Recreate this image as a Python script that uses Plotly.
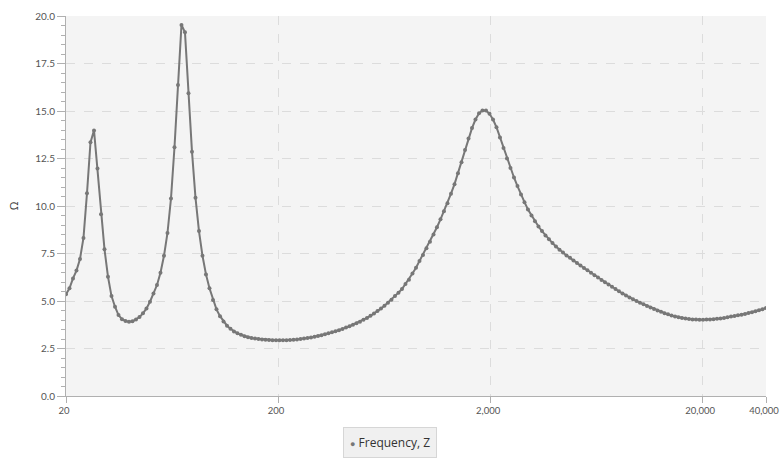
import plotly.graph_objects as go

# Impedance curve: frequency (Hz) and |Z| (ohm)
freq = [
    20.0, 20.77, 21.58, 22.41, 23.28, 24.18, 25.12, 26.09, 27.11, 28.15,
    29.25, 30.38, 31.55, 32.78, 34.05, 35.36, 36.73, 38.16, 39.63, 41.17,
    42.76, 44.42, 46.14, 47.93, 49.78, 51.71, 53.72, 55.80, 57.96, 60.20,
    62.53, 64.96, 67.47, 70.08, 72.80, 75.62, 78.55, 81.59, 84.75, 88.03,
    91.44, 94.98, 98.66, 102.5, 106.5, 110.6, 114.9, 119.3, 123.9, 128.7,
    133.7, 138.9, 144.3, 149.9, 155.7, 161.7, 168.0, 174.5, 181.3, 188.3,
    195.6, 203.1, 211.0, 219.2, 227.7, 236.5, 245.7, 255.2, 265.1, 275.3,
    286.0, 297.1, 308.6, 320.5, 332.9, 345.8, 359.2, 373.1, 387.6, 402.6,
    418.2, 434.4, 451.2, 468.7, 486.8, 505.7, 525.3, 545.6, 566.7, 588.7,
    611.5, 635.2, 659.8, 685.3, 711.9, 739.5, 768.1, 797.8, 828.7, 860.8,
    894.4, 929.1, 965.1, 1002, 1041, 1082, 1123, 1167, 1212, 1259,
    1308, 1359, 1411, 1466, 1523, 1582, 1643, 1706, 1773, 1841,
    1912, 1987, 2064, 2143, 2226, 2313, 2402, 2495, 2592, 2692,
    2797, 2905, 3017, 3134, 3256, 3382, 3513, 3649, 3790, 3937,
    4089, 4248, 4412, 4583, 4761, 4945, 5137, 5335, 5542, 5757,
    5981, 6213, 6454, 6704, 6963, 7233, 7513, 7804, 8106, 8420,
    8746, 9085, 9437, 9803, 10182, 10577, 10986, 11412, 11854, 12313,
    12790, 13285, 13800, 14334, 14889, 15466, 16065, 16687, 17333, 18005,
    18702, 19426, 20179, 20960, 21772, 22615, 23491, 24401, 25346, 26327,
    27347, 28406, 29506, 30649, 31836, 33069, 34350, 35680, 37062, 38498,
    40000,
]
impedance = [
    5.35, 5.67, 6.19, 6.60, 7.21, 8.32, 10.67, 13.35, 13.98, 11.98,
    9.56, 7.72, 6.28, 5.26, 4.70, 4.26, 4.04, 3.95, 3.91, 3.93,
    4.03, 4.16, 4.35, 4.61, 4.96, 5.40, 5.84, 6.49, 7.38, 8.58,
    10.39, 13.09, 16.37, 19.53, 19.14, 15.93, 12.86, 10.44, 8.68, 7.38,
    6.40, 5.67, 5.05, 4.56, 4.20, 3.92, 3.70, 3.54, 3.40, 3.30,
    3.22, 3.15, 3.09, 3.05, 3.02, 3.00, 2.98, 2.96, 2.95, 2.94,
    2.93, 2.93, 2.93, 2.94, 2.95, 2.96, 2.98, 3.00, 3.02, 3.05,
    3.08, 3.12, 3.16, 3.20, 3.25, 3.30, 3.35, 3.41, 3.46, 3.53,
    3.60, 3.67, 3.75, 3.83, 3.91, 4.01, 4.11, 4.22, 4.34, 4.47,
    4.60, 4.75, 4.91, 5.07, 5.26, 5.44, 5.63, 5.90, 6.12, 6.45,
    6.75, 7.10, 7.42, 7.78, 8.12, 8.50, 8.88, 9.30, 9.72, 10.15,
    10.65, 11.15, 11.72, 12.30, 12.95, 13.55, 14.10, 14.55, 14.88, 15.03,
    15.03, 14.85, 14.55, 14.15, 13.60, 13.05, 12.50, 12.00, 11.50, 11.05,
    10.60, 10.20, 9.82, 9.50, 9.20, 8.92, 8.68, 8.45, 8.25, 8.05,
    7.87, 7.70, 7.55, 7.40, 7.27, 7.13, 7.00, 6.87, 6.74, 6.62,
    6.49, 6.36, 6.24, 6.11, 5.99, 5.87, 5.75, 5.63, 5.51, 5.40,
    5.29, 5.19, 5.09, 5.00, 4.91, 4.83, 4.74, 4.66, 4.58, 4.50,
    4.43, 4.36, 4.30, 4.24, 4.19, 4.15, 4.11, 4.08, 4.05, 4.03,
    4.02, 4.01, 4.01, 4.02, 4.03, 4.04, 4.06, 4.08, 4.11, 4.14,
    4.18, 4.21, 4.25, 4.28, 4.32, 4.37, 4.41, 4.46, 4.51, 4.57,
    4.63,
]

x_ticks = [20, 200, 2000, 20000, 40000]
x_tick_labels = ["20", "200", "2,000", "20,000", "40,000"]

line_color = "#777777"
axis_color = "#b0b0b0"
text_color = "#555555"

fig = go.Figure()

fig.add_trace(go.Scatter(
    x=freq, y=impedance,
    mode="lines+markers",
    line=dict(color=line_color, width=2),
    marker=dict(color=line_color, size=4),
    name="Frequency, Z",
    showlegend=False,
    hoverinfo="x+y",
))

# compact legend box below the plot, dot + series name
fig.add_annotation(
    xref="paper", yref="paper",
    x=(390 - 66) / 700, y=-(442 - 396) / 380,
    xanchor="center", yanchor="middle",
    text="<span style='color:#777777;font-size:9px'>●</span> Frequency, Z",
    showarrow=False,
    font=dict(size=12, color="#333333"),
    bgcolor="#f0f0f0",
    bordercolor="#d6d6d6",
    borderwidth=1,
    borderpad=6,
)

fig.update_layout(
    width=781, height=463,
    margin=dict(l=66, r=15, t=16, b=67, autoexpand=False),
    paper_bgcolor="white",
    plot_bgcolor="#f4f4f4",
    font=dict(family="Open Sans", size=10, color=text_color),
    showlegend=False,
    xaxis=dict(
        type="log",
        range=[1.30103, 4.60206],
        tickvals=x_ticks,
        ticktext=x_tick_labels,
        ticks="outside", ticklen=6, tickcolor=axis_color,
        showline=True, linecolor=axis_color, linewidth=1,
        showgrid=True, gridcolor="#dcdcdc", griddash="dash", gridwidth=1,
        zeroline=False,
        automargin=False,
        ticklabeloverflow="allow",
        ticklabelshift=-2,   # keeps "40,000" inside the window edge
        tickfont=dict(family="Lato", size=9.5, color=text_color),
    ),
    yaxis=dict(
        range=[0, 20],
        dtick=2.5,
        tickformat=".1f",
        ticks="outside", ticklen=8, tickcolor=axis_color,
        minor=dict(dtick=0.5, ticks="outside", ticklen=4, tickcolor=axis_color, showgrid=False),
        showline=True, linecolor=axis_color, linewidth=1,
        showgrid=True, gridcolor="#dcdcdc", griddash="dash", gridwidth=1,
        zeroline=False,
        automargin=False,
        ticklabeloverflow="allow",
        title=dict(text="Ω", standoff=14, font=dict(size=11, color="#333333")),
        tickfont=dict(family="Lato", size=10, color=text_color),
    ),
)

# drop the page's default body margin so the figure fills the window exactly
fig.write_html(
    "out.html",
    config={"displayModeBar": False},
    post_script="document.body.style.margin='0';",
)
